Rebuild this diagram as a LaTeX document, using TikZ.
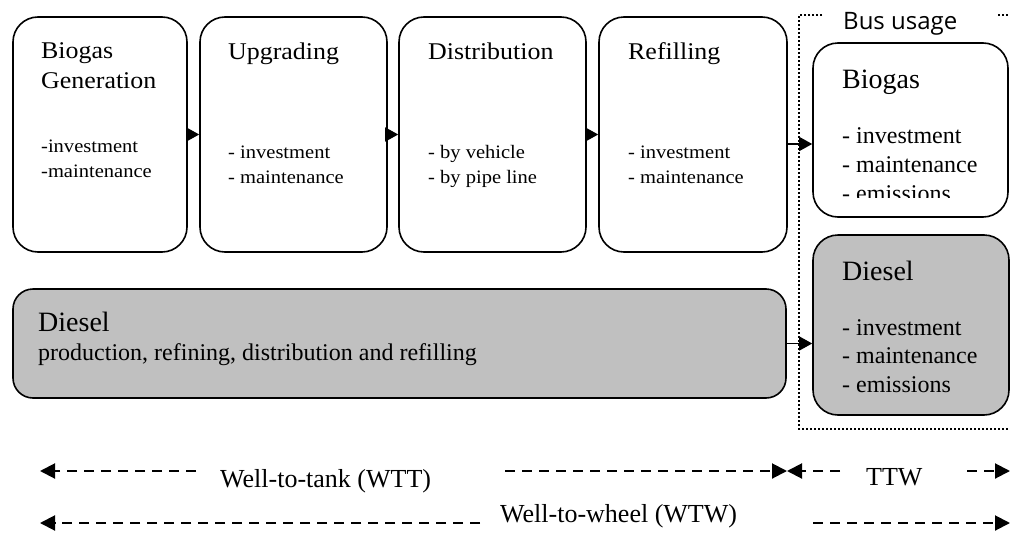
\documentclass[tikz,border=0pt]{standalone}
\usepackage{fontspec}
\setmainfont{Liberation Serif}
\newfontfamily\topfont[FakeStretch=1.08]{Liberation Serif}
\newfontfamily\busfont{Open Sans}
\usetikzlibrary{arrows.meta}
\definecolor{boxgray}{HTML}{C0C0C0}
\begin{document}
\begin{tikzpicture}[x=1pt,y=-1pt,
  box/.style={draw, line width=1.6pt, rounded corners=25pt, inner sep=0pt},
  graybox/.style={box, fill=boxgray},
  lbl/.style={anchor=base west, inner sep=0pt},
  ttl/.style={lbl, font=\topfont\fontsize{24}{28}\selectfont},
  tsm/.style={lbl, font=\topfont\fontsize{19}{22}\selectfont},
  btl/.style={lbl, font=\fontsize{28}{32}\selectfont},
  bsm/.style={lbl, font=\fontsize{24}{28}\selectfont},
  blab/.style={lbl, font=\fontsize{26}{30}\selectfont},
  arr/.style={line width=1.6pt, -{Triangle[length=13pt,width=14pt]}},
  darr/.style={line width=2pt, dash pattern=on 10pt off 7pt, -{Triangle[length=15pt,width=15pt]}},
  frame/.style={line width=2pt, dash pattern=on 2pt off 2pt}]
\useasboundingbox (0,0) rectangle (1010,533);
\begin{scope}
\clip (0,0) rectangle (1010,533);
% top boxes
\node[box, minimum width=174pt, minimum height=235pt] (b1) at (100,134.5) {};
\node[box, minimum width=187pt, minimum height=235pt] (b2) at (293.5,134.5) {};
\node[box, minimum width=187pt, minimum height=235pt] (b3) at (492.5,134.5) {};
\node[box, minimum width=188pt, minimum height=235pt] (b4) at (693,134.5) {};
% bus boxes
\node[box, minimum width=195pt, minimum height=174pt] (bb) at (910.5,130) {};
\node[graybox, minimum width=196pt, minimum height=180pt] (db) at (911,325) {};
% diesel long box
\node[graybox, rounded corners=20pt, minimum width=773pt, minimum height=109pt] (dl) at (399.5,343.5) {};
% dotted frame
\draw[frame] (822,15) -- (799,15) -- (799,429) -- (1015,429);
\draw[frame] (998,15) -- (1015,15);
\node[lbl, font=\busfont\fontsize{24}{28}\selectfont] (bus) at (843,29) {Bus usage};
% texts top boxes
\node[ttl] (t1a) at (41,58.5) {Biogas};
\node[ttl] (t1b) at (41,88) {Generation};
\node[tsm] (t1c) at (41,152) {-investment};
\node[tsm] (t1d) at (41,177) {-maintenance};
\node[ttl] (t2a) at (228,59) {Upgrading};
\node[tsm] (t2c) at (228,158) {- investment};
\node[tsm] (t2d) at (228,183) {- maintenance};
\node[ttl] (t3a) at (428,59) {Distribution};
\node[tsm] (t3c) at (428,158) {- by vehicle};
\node[tsm] (t3d) at (428,183) {- by pipe line};
\node[ttl] (t4a) at (628,59) {Refilling};
\node[tsm] (t4c) at (628,158) {- investment};
\node[tsm] (t4d) at (628,183) {- maintenance};
% bus texts
\node[btl] (tba) at (842,88) {Biogas};
\node[bsm] (tbb) at (842,143) {- investment};
\node[bsm] (tbc) at (842,172) {- maintenance};
\begin{scope}
\clip (800,0) rectangle (1010,197);
\node[bsm] (tbd) at (842,201) {- emissions};
\end{scope}
\node[btl] (tda) at (842,280) {Diesel};
\node[bsm] (tdb) at (842,335) {- investment};
\node[bsm] (tdc) at (842,363) {- maintenance};
\node[bsm] (tdd) at (842,392) {- emissions};
% diesel long texts
\node[btl] (tla) at (38,331) {Diesel};
\node[bsm] (tlb) at (38,360) {production, refining, distribution and refilling};
% arrows
\draw[arr] (b1.east) -- (b2.west);
\draw[arr] (b2.east) -- (b3.west);
\draw[arr] (b3.east) -- (b4.west);
\coordinate (a4) at ([yshift=-9.5pt]b4.east);
\draw[arr] (a4) -- (a4 -| bb.west);
\draw[arr] (dl.east) -- (dl.east -| db.west);
% bottom
\coordinate (wttA) at (40,471);
\coordinate (wttB) at (196,471);
\coordinate (wttC) at (505,471);
\coordinate (wttD) at (787,471);
\coordinate (ttwA) at (787,471);
\coordinate (ttwB) at (840,471);
\coordinate (ttwC) at (967,471);
\coordinate (ttwD) at (1010,471);
\coordinate (wtwA) at (40,523);
\coordinate (wtwB) at (480,523);
\coordinate (wtwC) at (813,523);
\coordinate (wtwD) at (1010,523);
\draw[darr] (wttB) -- (wttA);
\draw[darr] (wttC) -- (wttD);
\draw[darr] (ttwB) -- (ttwA);
\draw[darr] (ttwC) -- (ttwD);
\draw[darr] (wtwB) -- (wtwA);
\draw[darr] (wtwC) -- (wtwD);
\node[blab] (lwtt) at (220,487) {Well-to-tank (WTT)};
\node[blab] (lttw) at (866,485) {TTW};
\node[blab] (lwtw) at (500,522) {Well-to-wheel (WTW)};
\end{scope}
\end{tikzpicture}
\end{document}
